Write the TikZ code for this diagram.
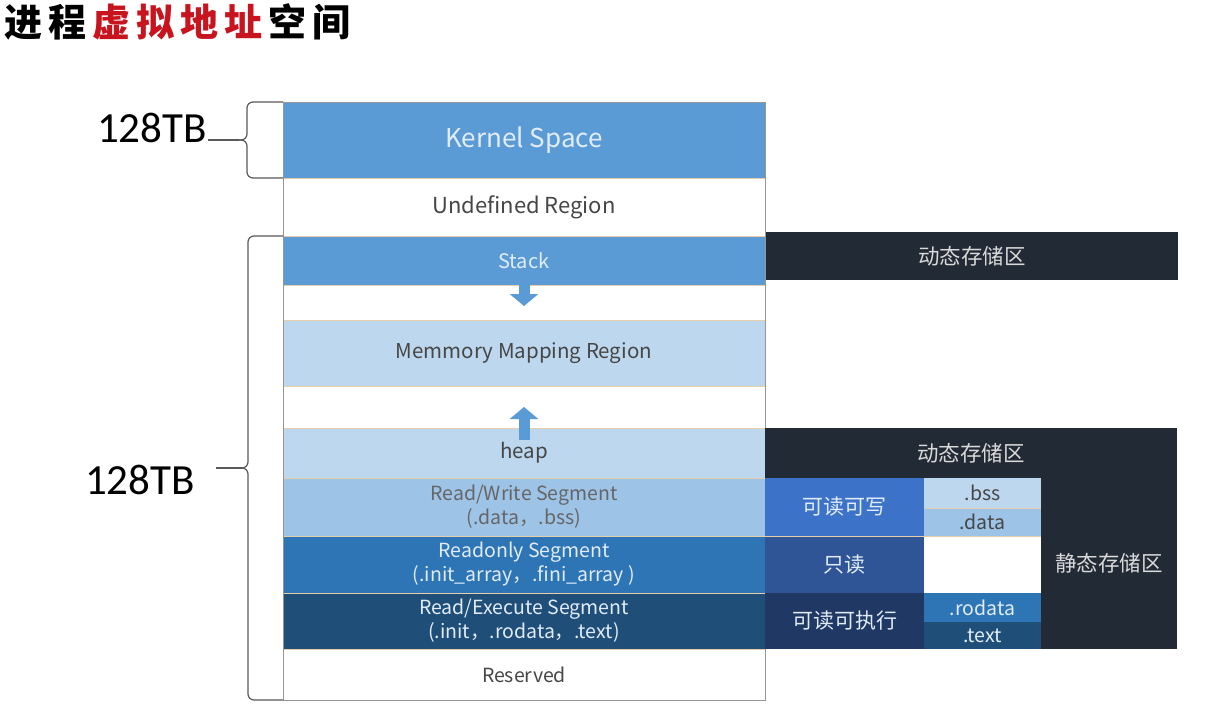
\documentclass[tikz,border=0pt]{standalone}
\usepackage{fontspec}
\setmainfont{Noto Sans CJK SC}
\newfontfamily\numfont{Carlito}
\newfontfamily\titlefont{Noto Sans CJK SC}
\usetikzlibrary{
  arrows.meta,
  positioning,
}
\definecolor{kblue}{RGB}{91,155,213}
\definecolor{paleblue}{RGB}{189,215,238}
\definecolor{midblue}{RGB}{157,195,230}
\definecolor{roblue}{RGB}{46,117,182}
\definecolor{rxblue}{RGB}{31,78,121}
\definecolor{darkbg}{RGB}{34,42,53}
\definecolor{cellrw}{RGB}{60,115,200}
\definecolor{cellro}{RGB}{47,85,151}
\definecolor{cellrx}{RGB}{32,56,100}
\definecolor{segline}{RGB}{232,205,170}
\definecolor{outline}{RGB}{150,150,150}
\definecolor{ltext}{RGB}{225,236,248}
\definecolor{dtext}{RGB}{70,70,70}
\definecolor{titlered}{RGB}{200,20,30}
\newcommand{\tk}{\kern6pt}
\tikzset{
  seg/.style={
    rectangle, minimum width=482pt, inner sep=0pt, outer sep=0pt,
    draw=segline, line width=0.5pt, align=center, text=dtext,
    font=\fontsize{19.5}{24}\selectfont
  },
  cell/.style={
    rectangle, inner sep=0pt, outer sep=0pt, draw=none, align=center,
    text=ltext, font=\fontsize{21}{25}\selectfont
  },
  darkbox/.style={cell, fill=darkbg, text=white!85!black, font=\fontsize{21.5}{25}\selectfont},
  subcell/.style={cell, minimum width=117pt, font=\fontsize{19.5}{23}\selectfont},
  growarrow/.style={-{Triangle[width=28pt,length=12pt]}, line width=11pt, draw=kblue},
  bracket/.style={draw=black!65, line width=1.2pt, rounded corners=6pt},
  sizelabel/.style={font=\numfont\fontsize{43}{47}\selectfont, inner sep=1pt},
}
\begin{document}
\begin{tikzpicture}[x=1pt, y=-1pt, node distance=0pt]
  \useasboundingbox (0,0) rectangle (1216,712);
  \fill[white] (0,0) rectangle (1216,712);

  % ── Title ──
  \node[anchor=west, inner sep=0pt, font=\titlefont\bfseries\fontsize{38}{42}\selectfont]
    (title) at (4,22) {进\tk 程\tk\textcolor{titlered}{虚\tk 拟\tk 地\tk 址}\tk 空\tk 间};

  % ── Address space column ──
  \node[seg, fill=kblue, text=ltext, minimum height=76pt, anchor=north,
        font=\fontsize{26}{30}\selectfont] (kernel) at (524,102) {Kernel Space};
  \node[seg, fill=white, minimum height=58pt, font=\fontsize{22}{26}\selectfont,
        below=of kernel] (undef) {Undefined Region};
  \node[seg, fill=kblue, text=ltext, minimum height=49pt, font=\fontsize{20}{24}\selectfont,
        below=of undef] (stack) {Stack};
  \node[seg, fill=white, minimum height=35pt, below=of stack] (gapA) {};
  \node[seg, fill=paleblue, minimum height=66pt, font=\fontsize{20.5}{24}\selectfont,
        below=of gapA] (mmap) {Memmory Mapping Region};
  \node[seg, fill=white, minimum height=42pt, below=of mmap] (gapB) {};
  \node[seg, fill=paleblue, minimum height=50pt, font=\fontsize{20.5}{24}\selectfont,
        below=of gapB] (heap) {heap};
  \node[seg, fill=midblue, minimum height=58pt, text=black!60, below=of heap]
    (rwseg) {Read/Write Segment\\(.data，.bss)};
  \node[seg, fill=roblue, text=ltext, minimum height=57pt, below=of rwseg]
    (roseg) {Readonly Segment\\(.init\_array，.fini\_array )};
  \node[seg, fill=rxblue, text=ltext, minimum height=56pt, below=of roseg]
    (rxseg) {Read/Execute Segment\\(.init，.rodata，.text)};
  \node[seg, fill=white, minimum height=51pt, below=of rxseg] (reserved) {Reserved};
  \draw[outline, line width=0.8pt] (kernel.north west) rectangle (reserved.south east);

  % ── Growth arrows ──
  \draw[growarrow] (stack.south) -- ++(0,21);
  \draw[growarrow] ([yshift=-12pt]heap.north) -- ++(0,-33);

  % ── Storage classes ──
  \node[darkbox, minimum width=412pt, minimum height=48pt, anchor=north west]
    (dynA) at (766,232) {动态存储区};
  \node[darkbox, minimum width=412pt, minimum height=50pt, right=of heap] (dynB) {动态存储区};
  \node[cell, fill=cellrw, minimum width=159pt, minimum height=58pt, right=of rwseg] (rw) {可读可写};
  \node[cell, fill=cellro, minimum width=159pt, minimum height=57pt, right=of roseg] (ro) {只读};
  \node[cell, fill=cellrx, minimum width=159pt, minimum height=56pt, right=of rxseg] (rx) {可读可执行};
  \node[subcell, fill=paleblue, text=dtext, minimum height=30pt, anchor=north west]
    (bss) at (rw.north east) {.bss};
  \node[subcell, fill=midblue, text=dtext, minimum height=28pt, below=of bss] (data) {.data};
  \node[subcell, fill=white, minimum height=57pt, right=of ro] (blank) {};
  \node[subcell, fill=roblue, minimum height=29pt, anchor=north west]
    (rodata) at (rx.north east) {.rodata};
  \node[subcell, fill=rxblue, minimum height=27pt, below=of rodata] (text) {.text};
  \node[darkbox, minimum width=136pt, minimum height=171pt, anchor=north west]
    (static) at (bss.north east) {静态存储区};
  \draw[segline, line width=0.8pt] (bss.south west) -- (bss.south east);
  \draw[segline, line width=0.8pt] (data.south west) -- (data.south east);
  \draw[segline, line width=0.8pt] (rw.south west) -- (rw.south east);

  % ── Braces ──
  \coordinate (tipA) at (239,140);
  \coordinate (tipB) at (242,468);
  \draw[bracket] (kernel.north west) -| ([xshift=8pt]tipA) -- (tipA);
  \draw[bracket] (tipA) -- ([xshift=8pt]tipA) |- (kernel.south west);
  \draw[bracket] (stack.north west) -| ([xshift=6pt]tipB) -- (tipB);
  \draw[bracket] (tipB) -- ([xshift=6pt]tipB) |- (reserved.south west);

  \node[sizelabel] (sizeA) at (152,128) {128TB};
  \node[sizelabel] (sizeB) at (140,480) {128TB};
  \draw[bracket] (tipA) -- (tipA -| sizeA.east);
  \draw[bracket] (tipB) -- ([xshift=20pt]sizeB.east |- tipB);

\end{tikzpicture}
\end{document}
